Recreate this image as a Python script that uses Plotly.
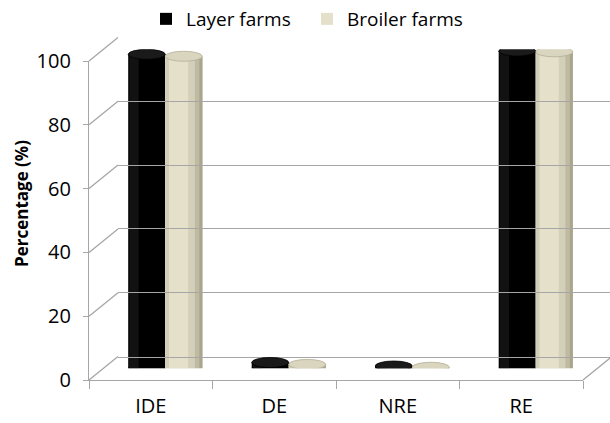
import plotly.graph_objects as go

# ---------------- data ----------------
categories = ["IDE", "DE", "NRE", "RE"]
layer_farms = [98.4, 1.8, 0.7, 99.4]
broiler_farms = [97.8, 1.2, 0.3, 99.2]
y_ticks = [0, 20, 40, 60, 80, 100]
series_names = ["Layer farms", "Broiler farms"]
y_title = "Percentage (%)"

# ---------------- layout geometry (pixels) ----------------
W, H = 610, 423
FX0, FX1 = 89, 583          # front floor edge
FY0, FY100 = 380, 61        # front axis 0 / 100
DX, DY = 29, -23.5          # depth offset front -> back wall
BAR_W = 0.3                 # bar width in category units

def px(p):
    return p / W

def py(p):
    return 1 - p / H

GRID = "#a6a6a6"
FONT = "Open Sans"
xpos = list(range(len(categories)))

fig = go.Figure()

# bars (mid depth axis x2/y2)
fig.add_trace(go.Bar(
    x=xpos, y=layer_farms, name=series_names[0], xaxis="x2", yaxis="y2",
    offset=-BAR_W, width=BAR_W, marker=dict(color="#000000", line=dict(width=0)),
    hoverinfo="skip"))
fig.add_trace(go.Bar(
    x=xpos, y=broiler_farms, name=series_names[1], xaxis="x2", yaxis="y2",
    offset=0, width=BAR_W, marker=dict(color="#e4e0ca", line=dict(width=0)),
    hoverinfo="skip"))
# cylinder shading stripes for beige series
stripes = [(0.0, 0.10, "#d2ceb7"), (0.62, 0.38, "#d3cfb8"), (0.80, 0.20, "#bfbba3"),
           (0.92, 0.08, "#aaa68e")]
for start, frac, col in stripes:
    fig.add_trace(go.Bar(
        x=xpos, y=broiler_farms, xaxis="x2", yaxis="y2", showlegend=False,
        offset=start * BAR_W, width=frac * BAR_W,
        marker=dict(color=col, line=dict(width=0)), hoverinfo="skip"))
# subtle highlight on black series
fig.add_trace(go.Bar(
    x=xpos, y=layer_farms, xaxis="x2", yaxis="y2", showlegend=False,
    offset=-BAR_W + 0.03 * BAR_W, width=0.25 * BAR_W,
    marker=dict(color="#121212", line=dict(width=0)), hoverinfo="skip"))

# invisible anchors for front and back axes
fig.add_trace(go.Scatter(x=xpos, y=layer_farms, mode="none", showlegend=False,
                         hoverinfo="skip", xaxis="x", yaxis="y"))
fig.add_trace(go.Scatter(x=xpos, y=layer_farms, mode="none", showlegend=False,
                         hoverinfo="skip", xaxis="x3", yaxis="y3"))

shapes = []
# cylinder caps (computed from data)
for vals, off, top_col, bot_col, edge in [
        (layer_farms, -BAR_W / 2, "#1a1a1a", "#000000", "#000000"),
        (broiler_farms, BAR_W / 2, "#d9d5bf", "#c4c0a9", "#b3af97")]:
    for i, v in enumerate(vals):
        cx = xpos[i] + off
        shapes.append(dict(type="circle", xref="x2", yref="y2", layer="below",
                           x0=cx - BAR_W / 2, x1=cx + BAR_W / 2,
                           ysizemode="pixel", yanchor=0, y0=-5, y1=5,
                           fillcolor=bot_col, line=dict(width=0)))
        shapes.append(dict(type="circle", xref="x2", yref="y2", layer="above",
                           x0=cx - BAR_W / 2, x1=cx + BAR_W / 2,
                           ysizemode="pixel", yanchor=v, y0=-5, y1=5,
                           fillcolor=top_col, line=dict(width=0.8, color=edge)))

# side wall diagonals
def fy(v):
    return FY0 + (FY100 - FY0) * v / 100.0

for v in y_ticks:
    shapes.append(dict(type="line", xref="paper", yref="paper", layer="below",
                       x0=px(FX0), y0=py(fy(v)), x1=px(FX0 + DX), y1=py(fy(v) + DY),
                       line=dict(color=GRID, width=1.3)))
# right floor diagonal
shapes.append(dict(type="line", xref="paper", yref="paper", layer="below",
                   x0=px(FX1), y0=py(FY0), x1=px(FX1 + DX), y1=py(FY0 + DY),
                   line=dict(color=GRID, width=1.3)))

axis_font = dict(family=FONT, size=20, color="#000000")

fig.update_layout(
    width=W, height=H,
    margin=dict(l=0, r=0, t=0, b=0, autoexpand=False),
    paper_bgcolor="white", plot_bgcolor="rgba(0,0,0,0)",
    barmode="overlay",
    font=dict(family=FONT, color="#000000"),
    shapes=shapes,
    showlegend=True,
    legend=dict(orientation="h", x=px(146), y=1.0, xanchor="left", yanchor="top",
                font=dict(family=FONT, size=19, color="#000000"),
                entrywidth=116, entrywidthmode="pixels",
                bgcolor="rgba(0,0,0,0)", traceorder="normal"),
    annotations=[dict(text="<b>" + y_title + "</b>", xref="paper", yref="paper",
                      x=px(21), y=py(204), textangle=-90, showarrow=False,
                      xanchor="center", yanchor="middle",
                      font=dict(family=FONT, size=17, color="#000000"))],
    # front axes
    xaxis=dict(domain=[px(FX0), px(FX1)], range=[-0.5, 3.5], anchor="y",
               tickmode="array", tickvals=xpos, ticktext=categories, ticks="",
               tickfont=axis_font, ticklabelstandoff=8,
               showline=True, linecolor=GRID, linewidth=1.3, showgrid=False,
               zeroline=False, fixedrange=True,
               minor=dict(tickmode="array", tickvals=[-0.5, 0.5, 1.5, 2.5, 3.5],
                          ticks="outside", ticklen=8, tickcolor=GRID, tickwidth=1.3,
                          showgrid=False)),
    yaxis=dict(domain=[py(FY0), py(FY100)], range=[0, 100], anchor="x",
               tickmode="array", tickvals=y_ticks, ticks="outside", ticklen=5,
               tickcolor=GRID, tickwidth=1.3, tickfont=axis_font,
               ticklabelstandoff=8,
               showline=True, linecolor=GRID, linewidth=1.3, showgrid=False,
               zeroline=False, fixedrange=True),
    # mid-depth axes for bars
    xaxis2=dict(domain=[px(FX0 + DX / 2), px(FX1 + DX / 2)], range=[-0.5, 3.5],
                anchor="y2", visible=False, fixedrange=True),
    yaxis2=dict(domain=[py(FY0 + DY / 2), py(FY100 + DY / 2)], range=[0, 100],
                anchor="x2", visible=False, fixedrange=True),
    # back wall axes (gridlines)
    xaxis3=dict(domain=[px(FX0 + DX), 1.0], range=[-0.5, 3.5], anchor="y3",
                showticklabels=False, ticks="", showgrid=False, zeroline=False,
                showline=True, linecolor=GRID, linewidth=1.3, fixedrange=True),
    yaxis3=dict(domain=[py(FY0 + DY), py(FY100 + DY)], range=[0, 100], anchor="x3",
                tickmode="array", tickvals=y_ticks, showticklabels=False, ticks="",
                showgrid=True, gridcolor=GRID, gridwidth=1.3, zeroline=False,
                showline=False, fixedrange=True),
)

fig.write_html("out.html", config={"displayModeBar": False})
